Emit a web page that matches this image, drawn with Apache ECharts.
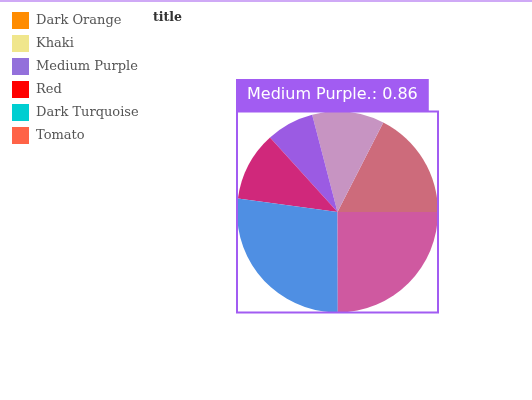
<!DOCTYPE html>
<html><head><meta charset="utf-8">
<script src="https://cdn.jsdelivr.net/npm/echarts@6/dist/echarts.min.js"></script>
<style>html,body{margin:0;padding:0;background:#fff}#c{width:532px;height:400px}</style>
</head><body><div id="c"></div>
<script>
var categories = ['Dark Orange', 'Khaki', 'Medium Purple', 'Red', 'Dark Turquoise', 'Tomato'];
var values = [1.96, 1.30, 0.86, 1.25, 3.05, 2.80];
var legendColors = ['#ff8c00', '#f0e68c', '#9370db', '#ff0000', '#00ced1', '#ff6347'];
var sliceColors = ['#cd6b7b', '#c794c2', '#9b5be3', '#d0287b', '#4f8fe3', '#cf59a0'];
var highlightIndex = 2;

var cx = 337.5, cy = 212, R = 100.5;
var accent = '#a25cf2';

var chart = echarts.init(document.getElementById('c'), null, {renderer: 'canvas'});
chart.setOption({
  animation: false,
  backgroundColor: '#fff',
  title: [{
    text: 'title', left: 153, top: 11, padding: 0,
    textStyle: {fontFamily: 'DejaVu Serif', fontWeight: 'bold', fontSize: 12.5, color: '#333'}
  }, {
    text: categories[highlightIndex] + '.: ' + values[highlightIndex].toFixed(2),
    left: 236, top: 79,
    backgroundColor: accent,
    padding: [8, 11],
    textStyle: {fontFamily: 'DejaVu Sans', fontWeight: 'normal', fontSize: 16, lineHeight: 16, color: '#fff'}
  }],
  legend: {
    orient: 'vertical', left: 12, top: 12, padding: 0,
    icon: 'rect', itemWidth: 17, itemHeight: 17, itemGap: 6,
    textStyle: {fontFamily: 'DejaVu Serif', fontSize: 13, color: '#555', padding: [0, 0, 0, 2]},
    data: categories.map(function (c, i) {
      return {name: c, itemStyle: {color: legendColors[i]}};
    })
  },
  graphic: [{
    type: 'rect', shape: {x: 0, y: 0, width: 532, height: 2},
    style: {fill: '#cfa9f6'}, silent: true
  }, {
    type: 'rect', shape: {x: cx - R, y: cy - R, width: 2 * R, height: 2 * R},
    style: {fill: null, stroke: accent, lineWidth: 2}, silent: true, z: 10
  }],
  series: [{
    type: 'pie',
    center: [cx, cy], radius: R,
    startAngle: 0, clockwise: false,
    label: {show: false}, labelLine: {show: false},
    itemStyle: {borderWidth: 0},
    emphasis: {disabled: true},
    data: categories.map(function (c, i) {
      return {name: c, value: values[i], itemStyle: {color: sliceColors[i]}};
    })
  }]
});
</script></body></html>
